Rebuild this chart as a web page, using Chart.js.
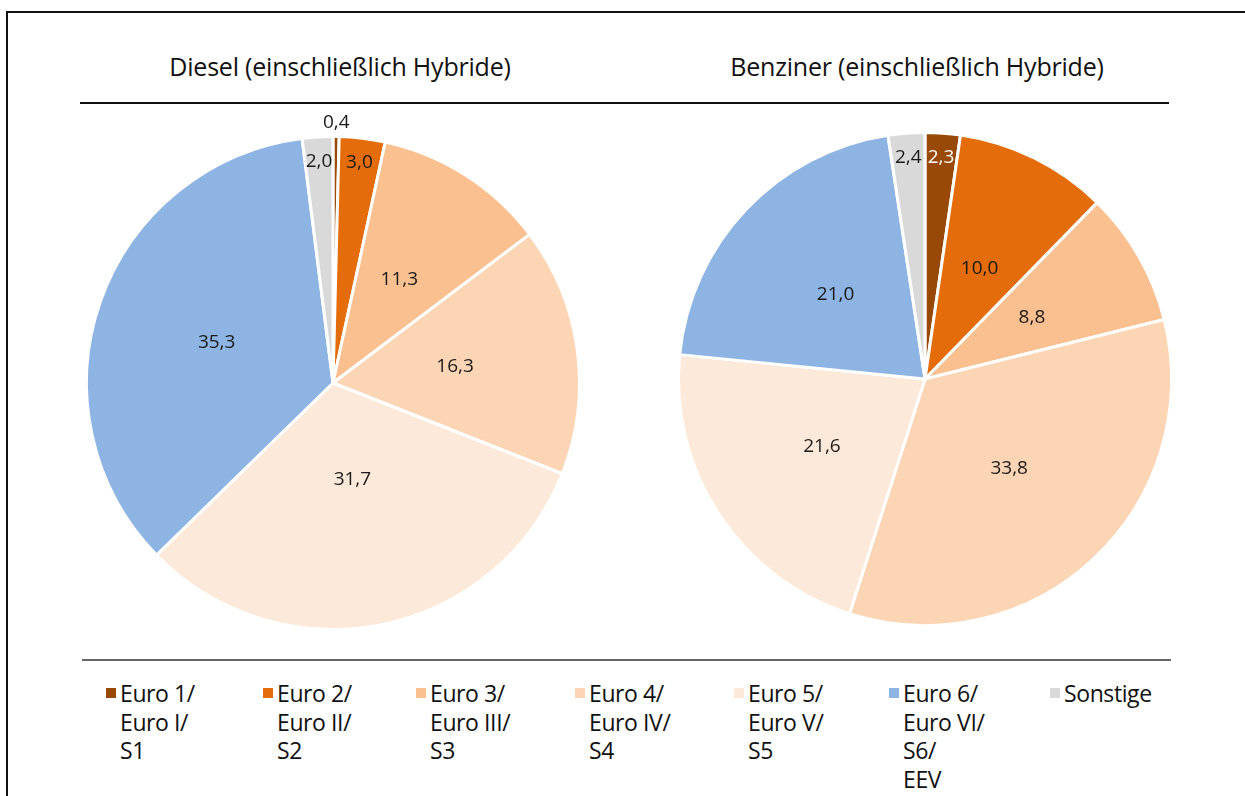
<!DOCTYPE html>
<html lang="de">
<head>
<meta charset="utf-8">
<title>Schadstoffklassen</title>
<script src="https://cdn.jsdelivr.net/npm/chart.js@4.4.1/dist/chart.umd.min.js"></script>
<style>
  html, body { margin: 0; padding: 0; background: #fff; }
  body { width: 1245px; height: 796px; position: relative; overflow: hidden;
         font-family: "Open Sans", "Noto Sans", sans-serif; color: #111; }
  .frame { position: absolute; left: 6px; top: 11px; width: 1250px; height: 800px;
           border-left: 2px solid #111; border-top: 2px solid #111; }
  .title { position: absolute; top: 48px; font-size: 25px; line-height: 36px; white-space: nowrap;
           transform: translateX(-50%); letter-spacing: -0.2px; }
  .rule { position: absolute; height: 0; }
  .pie { position: absolute; width: 536px; height: 536px; }
  .legend-item { position: absolute; top: 679px; font-size: 23px; line-height: 28.5px;
                 letter-spacing: -0.4px; }
  .legend-item .box { position: absolute; left: -14px; top: 9px; width: 10px; height: 10px; }
</style>
</head>
<body>
<div class="frame"></div>
<div class="title" id="title0" style="left:340px"></div>
<div class="title" id="title1" style="left:917px"></div>
<div class="rule" style="left:80px; top:102px; width:1089px; border-top:2px solid #111"></div>
<div class="rule" style="left:82px; top:659px; width:1089px; border-top:2px solid #666"></div>
<div class="pie" style="left:65px; top:115px"><canvas id="dieselChart"></canvas></div>
<div class="pie" style="left:657px; top:111px"><canvas id="benzinChart"></canvas></div>
<div id="legend"></div>

<script>
// Kategorien (Schadstoffklassen)
const categories = [
  ["Euro 1/", "Euro I/", "S1"],
  ["Euro 2/", "Euro II/", "S2"],
  ["Euro 3/", "Euro III/", "S3"],
  ["Euro 4/", "Euro IV/", "S4"],
  ["Euro 5/", "Euro V/", "S5"],
  ["Euro 6/", "Euro VI/", "S6/", "EEV"],
  ["Sonstige"]
];

const chartTitles = ["Diesel (einschließlich Hybride)", "Benziner (einschließlich Hybride)"];

// Anteile in Prozent
const dieselValues = [0.4, 3.0, 11.3, 16.3, 31.7, 35.3, 2.0];
const benzinValues = [2.3, 10.0, 8.8, 33.8, 21.6, 21.0, 2.4];

const colors = ["#984807", "#e46c0a", "#fac090", "#fcd5b5", "#fde9d9", "#8eb4e3", "#d9d9d9"];
const legendX = [120, 277, 430, 589, 748, 903, 1064];

document.getElementById("title0").textContent = chartTitles[0];
document.getElementById("title1").textContent = chartTitles[1];

// Legende aufbauen
const legend = document.getElementById("legend");
categories.forEach((lines, i) => {
  const item = document.createElement("div");
  item.className = "legend-item";
  item.style.left = legendX[i] + "px";
  item.innerHTML = `<span class="box" style="background:${colors[i]}"></span>` + lines.join("<br>");
  legend.appendChild(item);
});

// Werte in den Segmenten anzeigen (Komma als Dezimaltrennzeichen)
const valueLabels = {
  id: "valueLabels",
  afterDatasetsDraw(chart) {
    const ctx = chart.ctx;
    const meta = chart.getDatasetMeta(0);
    const values = chart.data.datasets[0].data;
    const total = values.reduce((a, b) => a + b, 0);
    ctx.save();
    ctx.font = '19px "Open Sans", sans-serif';
    ctx.textAlign = "center";
    ctx.textBaseline = "middle";
    meta.data.forEach((arc, i) => {
      const p = arc.getProps(["x", "y", "startAngle", "endAngle", "outerRadius"], true);
      const mid = (p.startAngle + p.endAngle) / 2;
      const share = values[i] / total;
      let dist;
      if (share < 0.01) dist = p.outerRadius + 14;
      else if (share < 0.05) dist = p.outerRadius * 0.9;
      else if (share > 0.3 && share < 0.33) dist = p.outerRadius * 0.4; // wie im Original etwas naeher zur Mitte
      else dist = p.outerRadius * 0.5;
      const x = p.x + Math.cos(mid) * dist;
      const y = p.y + Math.sin(mid) * dist;
      ctx.fillStyle = (i === 0 && share >= 0.01) ? "#ffffff" : "#1a1a1a";
      ctx.fillText(values[i].toFixed(1).replace(".", ","), x, y);
    });
    ctx.restore();
  }
};

function renderPie(canvasId, values) {
  const ctx = document.getElementById(canvasId).getContext("2d");
  new Chart(ctx, {
    type: "pie",
    data: {
      labels: categories.map(c => c.join(" ")),
      datasets: [{
        data: values,
        backgroundColor: colors,
        borderColor: "#ffffff",
        borderWidth: 3
      }]
    },
    options: {
      responsive: true,
      maintainAspectRatio: false,
      animation: false,
      layout: { padding: 20 },
      plugins: {
        legend: { display: false },
        tooltip: { enabled: false }
      }
    },
    plugins: [valueLabels]
  });
}

renderPie("dieselChart", dieselValues);
renderPie("benzinChart", benzinValues);
</script>
</body>
</html>
